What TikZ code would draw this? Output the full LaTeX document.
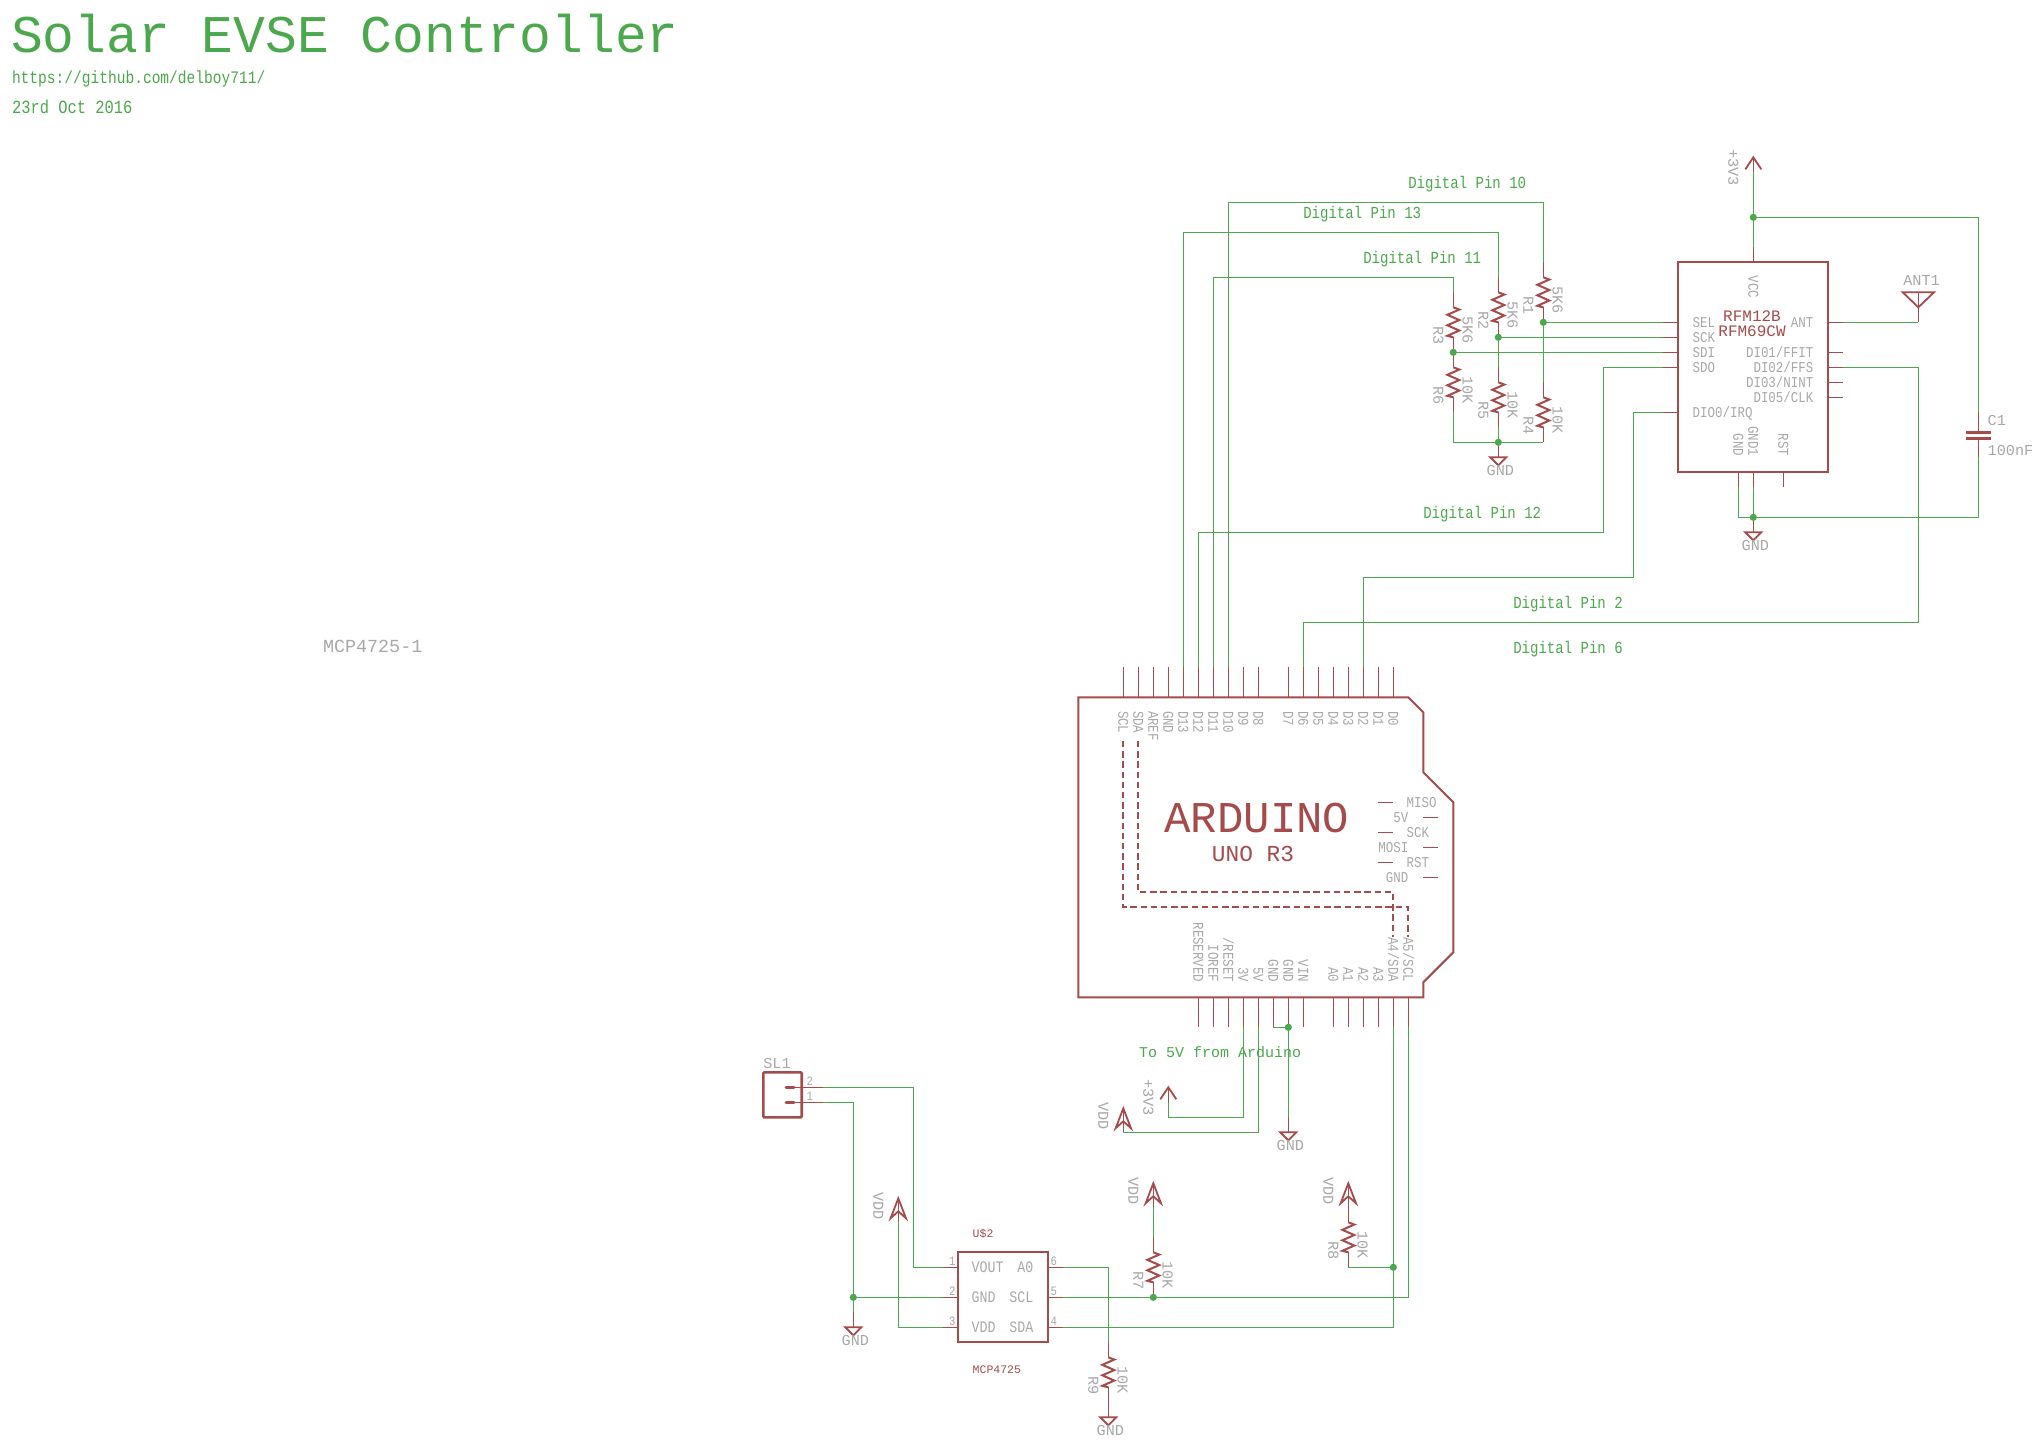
\documentclass[tikz,border=0pt]{standalone}
\usepackage{fontspec}
\setmainfont{Liberation Mono}
\newfontfamily\eagN{Liberation Mono}
\newfontfamily\eagS[FakeStretch=0.83]{Liberation Mono}
\definecolor{wgreen}{HTML}{4CA84C}
\definecolor{sred}{HTML}{A54B4B}
\definecolor{lgray}{HTML}{A8A8A8}
\tikzset{
  wire/.style={draw=wgreen,line width=0.6pt},
  pin/.style={draw=sred,line width=0.55pt},
  body/.style={draw=sred,line width=1pt,line join=miter},
  sym/.style={draw=sred,line width=0.9pt,line join=miter},
  dot/.style={circle,fill=wgreen,inner sep=0pt,minimum size=3.6pt},
  txt/.style={inner sep=0pt,outer sep=0pt},
  lblS/.style={txt,text=lgray,font=\eagS\fontsize{7.5pt}{9pt}\selectfont},
  lblM/.style={txt,text=lgray,font=\eagS\fontsize{8pt}{9pt}\selectfont},
  lblB/.style={txt,text=lgray,font=\eagN\fontsize{7.6pt}{9pt}\selectfont},
  lblN/.style={txt,text=lgray,font=\eagS\fontsize{6.4pt}{8pt}\selectfont},
  note/.style={txt,text=wgreen,font=\eagS\fontsize{8.45pt}{9pt}\selectfont},
  redt/.style={txt,text=sred,font=\eagN\fontsize{8pt}{9pt}\selectfont},
  redsm/.style={txt,text=sred,font=\eagN\fontsize{5.75pt}{7pt}\selectfont},
  down/.style={rotate=-90,anchor=base west},
  downend/.style={rotate=-90,anchor=base east},
  busline/.style={draw=sred,line width=0.9pt,dash pattern=on 3.2pt off 1.9pt}
}
% name, x, ytop, value, refdes
\newcommand\rstr[5]{%
  \coordinate (#1t) at (#2,#3);
  \coordinate (#1b) at (#2,#3+60);
  \draw[pin] (#1t) -- (#2,#3+15) (#2,#3+45) -- (#1b);
  \draw[sym,line width=1pt] (#2,#3+15) -- (#2+6,#3+17.25) -- (#2-6,#3+22.5) -- (#2+6,#3+27.75)
     -- (#2-6,#3+33) -- (#2+6,#3+38.25) -- (#2-6,#3+43.5) -- (#2,#3+45);
  \node[lblB,down] (#1v) at (#2+9.4,#3+23.7) {#4};
  \node[lblB,down] (#1n) at (#2-20,#3+33.7) {#5};
}
% name, x, apex y
\newcommand\vddsym[3]{%
  \coordinate (#1) at (#2,#3+24);
  \draw[pin] (#2,#3+3) -- (#1);
  \draw[sym] (#2-7.7,#3+20) -- (#2,#3) -- (#2+7.7,#3+20) -- (#2,#3+13) -- cycle;
  \node[lblB,down] (#1l) at (#2-25,#3-6) {VDD};
}
\newcommand\vccsym[3]{%
  \coordinate (#1) at (#2,#3+15);
  \draw[pin] (#2,#3+1) -- (#1);
  \draw[sym] (#2-8,#3+12) -- (#2,#3) -- (#2+8,#3+12);
  \node[lblB,down] (#1l) at (#2-25,#3-8) {+3V3};
}
% name, x, pin-top y
\newcommand\gndsym[3]{%
  \coordinate (#1) at (#2,#3);
  \draw[pin] (#1) -- (#2,#3+15);
  \draw[sym] (#2-8,#3+15) -- (#2+8,#3+15) -- (#2,#3+23) -- cycle;
  \node[lblB,anchor=base west] (#1l) at (#2-11.6,#3+33.6) {GND};
}
\begin{document}
\begin{tikzpicture}[x=0.5pt,y=-0.5pt]
\path[fill=white] (0,0) rectangle (2041,1441);
\useasboundingbox (0,0) rectangle (2041,1441);

% title block
\node[txt,text=wgreen,anchor=base west,font=\eagN\fontsize{26.5pt}{30pt}\selectfont] (title) at (11,52.3) {Solar EVSE Controller};
\node[txt,text=wgreen,anchor=base west,font=\eagS\fontsize{8.77pt}{10pt}\selectfont] (url) at (12,83.3) {https://github.com/delboy711/};
\node[txt,text=wgreen,anchor=base west,font=\eagS\fontsize{9.3pt}{10pt}\selectfont] (date) at (12,113.3) {23rd Oct 2016};
\node[txt,text=lgray,anchor=base west,font=\eagN\fontsize{9.2pt}{10pt}\selectfont] (mcplabel) at (323,652.7) {MCP4725-1};

% Arduino
\draw[body] (1078.3,697.3) -- (1408.3,697.3) -- (1423.3,712.3) -- (1423.3,772.3) -- (1453.3,802.3)
  -- (1453.3,952.3) -- (1423.3,982.3) -- (1423.3,997.3) -- (1078.3,997.3) -- cycle;
\foreach \n/\x/\t in {SCL/1123.3/SCL,SDA/1138.3/SDA,AREF/1153.3/AREF,GND/1168.3/GND,D13/1183.3/D13,D12/1198.3/D12,D11/1213.3/D11,D10/1228.3/D10,D9/1243.3/D9,D8/1258.3/D8,D7/1288.3/D7,D6/1303.3/D6,D5/1318.3/D5,D4/1333.3/D4,D3/1348.3/D3,D2/1363.3/D2,D1/1378.3/D1,D0/1393.3/D0}{
  \coordinate (t\n) at (\x,667.3);
  \draw[pin] (t\n) -- (\x,697.3);
  \node[lblS,down] (tl\n) at (\x-5,711) {\t};
}
\foreach \n/\x/\t in {RES/1198.3/RESERVED,IOREF/1213.3/IOREF,RESET/1228.3/{/RESET},V3/1243.3/3V,V5/1258.3/5V,GA/1273.3/GND,GB/1288.3/GND,VIN/1303.3/VIN,A0/1333.3/A0,A1/1348.3/A1,A2/1363.3/A2,A3/1378.3/A3,A4/1393.3/{A4/SDA},A5/1408.3/{A5/SCL}}{
  \coordinate (b\n) at (\x,1027.3);
  \draw[pin] (\x,997.3) -- (b\n);
  \node[lblS,downend] (bl\n) at (\x-5,982.3) {\t};
}
\foreach \n/\xa/\xb/\y in {MISO/1378.3/1393.3/802.3,CK/1378.3/1393.3/832.3,RS/1378.3/1393.3/862.3,FV/1423.3/1438.3/817.3,MO/1423.3/1438.3/847.3,GG/1423.3/1438.3/877.3}{
  \draw[pin] (\xa,\y) -- (\xb,\y);
}
\node[lblS,anchor=base west] (lMISO) at (1406.7,807.3) {MISO};
\node[lblS,anchor=base east] (l5V) at (1408.3,822.3) {5V};
\node[lblS,anchor=base west] (lSCK) at (1406.7,837.3) {SCK};
\node[lblS,anchor=base east] (lMOSI) at (1408.3,852.3) {MOSI};
\node[lblS,anchor=base west] (lRST) at (1406.7,867.3) {RST};
\node[lblS,anchor=base east] (lGNDa) at (1408.3,882.3) {GND};
\draw[busline] (1123.3,741) -- (1123.3,907.3) -- (1408.3,907.3) -- (1408.3,937.3);
\draw[busline] (1138.3,741) -- (1138.3,892.3) -- (1393.3,892.3) -- (1393.3,937.3);
\node[txt,text=sred,anchor=base,font=\eagN\fontsize{22pt}{24pt}\selectfont] (ard) at (1257,832.3) {ARDUINO};
\node[txt,text=sred,anchor=base,font=\eagN\fontsize{11.4pt}{13pt}\selectfont] (uno) at (1253,861.7) {UNO R3};

% RFM module
\draw[body] (1678.3,262.3) rectangle (1828.3,472.3);
\foreach \n/\y in {SEL/322.3,SCK/337.3,SDI/352.3,SDO/367.3,IRQ/412.3}{
  \coordinate (p\n) at (1663.3,\y);
  \draw[pin] (p\n) -- (1678.3,\y);
}
\foreach \n/\y in {ANT/322.3,DIOa/352.3,DIOb/367.3,DIOc/382.3,DIOd/397.3}{
  \coordinate (p\n) at (1843.3,\y);
  \draw[pin] (1828.3,\y) -- (p\n);
}
\coordinate (pVCC) at (1753.3,247.3);
\draw[pin] (pVCC) -- (1753.3,262.3);
\coordinate (pGa) at (1738.3,487.3);
\coordinate (pGb) at (1753.3,487.3);
\coordinate (pRST) at (1783.3,487.3);
\draw[pin] (1738.3,472.3) -- (pGa) (1753.3,472.3) -- (pGb) (1783.3,472.3) -- (pRST);
\node[lblS,anchor=base west] (rSEL) at (1692.7,327.3) {SEL};
\node[lblS,anchor=base west] (rSCK) at (1692.7,342.3) {SCK};
\node[lblS,anchor=base west] (rSDI) at (1692.7,357.3) {SDI};
\node[lblS,anchor=base west] (rSDO) at (1692.7,372.3) {SDO};
\node[lblS,anchor=base west] (rIRQ) at (1692.7,417.3) {DIO0/IRQ};
\node[lblS,anchor=base east] (rANT) at (1813.3,327.3) {ANT};
\node[lblS,anchor=base east] (rD1) at (1813.3,357.3) {DI01/FFIT};
\node[lblS,anchor=base east] (rD2) at (1813.3,372.3) {DI02/FFS};
\node[lblS,anchor=base east] (rD3) at (1813.3,387.3) {DI03/NINT};
\node[lblS,anchor=base east] (rD5) at (1813.3,402.3) {DI05/CLK};
\node[lblS,down] (rVCC) at (1748.3,275.7) {VCC};
\node[lblS,downend] (rG1) at (1748.3,456) {GND1};
\node[lblS,downend] (rG) at (1733.3,456) {GND};
\node[lblS,downend] (rRST) at (1778.3,456) {RST};
\node[redt,anchor=base] (rfm12) at (1752,321.7) {RFM12B};
\node[redt,anchor=base] (rfm69) at (1752,336.9) {RFM69CW};

% antenna
\coordinate (antp) at (1918.3,322.3);
\draw[pin] (1918.3,292.3) -- (antp);
\draw[sym] (1902.7,292.3) -- (1934,292.3) -- (1918.3,307.3) -- cycle;
\node[lblB,anchor=base west] (antl) at (1903.3,285) {ANT1};

% capacitor
\coordinate (c1t) at (1978.3,412.3);
\coordinate (c1b) at (1978.3,457.3);
\draw[pin] (c1t) -- (1978.3,432.3) (1978.3,438.3) -- (c1b);
\draw[sred,line width=1.5pt] (1966,432.3) -- (1991,432.3) (1966,438.6) -- (1991,438.6);
\node[lblB,anchor=base west] (c1n) at (1987.7,425) {C1};
\node[lblB,anchor=base west] (c1v) at (1987.7,455) {100nF};

% resistors
\rstr{ra}{1543.3}{262.3}{5K6}{R1}
\rstr{rb}{1498.3}{277.3}{5K6}{R2}
\rstr{rc}{1453.3}{292.3}{5K6}{R3}
\rstr{rd}{1543.3}{382.3}{10K}{R4}
\rstr{re}{1498.3}{367.3}{10K}{R5}
\rstr{rf}{1453.3}{352.3}{10K}{R6}
\rstr{rg}{1153.3}{1237.3}{10K}{R7}
\rstr{rh}{1348.3}{1207.3}{10K}{R8}
\rstr{ri}{1108.3}{1342.3}{10K}{R9}

% supplies
\vccsym{vcca}{1753.3}{157.3}
\vccsym{vccb}{1168.3}{1087.3}
\vddsym{vdda}{1123.3}{1108.3}
\vddsym{vddb}{898.3}{1198.3}
\vddsym{vddc}{1153.3}{1183.3}
\vddsym{vddd}{1348.3}{1183.3}
\gndsym{gnda}{1498.3}{442.3}
\gndsym{gndb}{1753.3}{517.3}
\gndsym{gndc}{1288.3}{1117.3}
\gndsym{gndd}{853.3}{1312.3}
\gndsym{gnde}{1108.3}{1402.3}

% SL1 connector
\draw[sred,line width=1.3pt,rounded corners=0.5pt] (763.3,1072.3) rectangle (801.7,1117.3);
\draw[sred,line width=1.5pt,line cap=round] (786,1087.3) -- (794,1087.3) (786,1102.3) -- (794,1102.3);
\coordinate (sl2) at (823.3,1087.3);
\coordinate (sl1) at (823.3,1102.3);
\draw[pin] (795,1087.3) -- (sl2) (795,1102.3) -- (sl1);
\node[lblB,anchor=base west] (sln) at (763.3,1068.3) {SL1};
\node[lblN,anchor=base west] (sl2n) at (806.7,1085) {2};
\node[lblN,anchor=base west] (sl1n) at (806.7,1100) {1};

% MCP4725
\draw[body] (958.3,1252.3) rectangle (1048.3,1342.3);
\foreach \n/\y/\t in {1/1267.3/1,2/1297.3/2,3/1327.3/3}{
  \coordinate (ml\n) at (943.3,\y);
  \draw[pin] (ml\n) -- (958.3,\y);
  \node[lblN,anchor=base east] (mln\n) at (955.5,\y-2.3) {\t};
}
\foreach \n/\y/\t in {6/1267.3/6,5/1297.3/5,4/1327.3/4}{
  \coordinate (mr\n) at (1063.3,\y);
  \draw[pin] (1048.3,\y) -- (mr\n);
  \node[lblN,anchor=base west] (mrn\n) at (1050.5,\y-2.3) {\t};
}
\node[lblM,anchor=base west] (mVOUT) at (971.7,1272.3) {VOUT};
\node[lblM,anchor=base west] (mGND) at (971.7,1302.3) {GND};
\node[lblM,anchor=base west] (mVDD) at (971.7,1332.3) {VDD};
\node[lblM,anchor=base east] (mA0) at (1033.3,1272.3) {A0};
\node[lblM,anchor=base east] (mSCL) at (1033.3,1302.3) {SCL};
\node[lblM,anchor=base east] (mSDA) at (1033.3,1332.3) {SDA};
\node[redsm,anchor=base west] (mU) at (972.7,1237.7) {U\$2};
\node[redsm,anchor=base west] (mName) at (972.7,1373.3) {MCP4725};

% junctions
\coordinate (jvcc) at (1753.3,217.3);
\coordinate (jgnd) at (1753.3,517.3);
\coordinate (jres) at (1498.3,442.3);
\coordinate (jv8) at (1393.3,1267.3);
\coordinate (jag) at (1288.3,1027.3);
\coordinate (jmg) at (853.3,1297.3);

% wires
\coordinate (k10) at (1228.3,202.3);
\coordinate (k13) at (1183.3,232.3);
\coordinate (k11) at (1213.3,277.3);
\coordinate (k12) at (1198.3,532.3);
\coordinate (k12b) at (1603.3,367.3);
\coordinate (k2a) at (1633.3,412.3);
\coordinate (k2b) at (1363.3,577.3);
\coordinate (k6a) at (1918.3,367.3);
\coordinate (k6b) at (1303.3,622.3);
\coordinate (kv3) at (1168.3,1117.3);
\coordinate (ksl) at (913.3,1087.3);
\draw[wire] (rat) |- (k10) -- (tD10);
\draw[wire] (rbt) |- (k13) -- (tD13);
\draw[wire] (rct) |- (k11) -- (tD11);
\draw[wire] (pSDO) -- (k12b) |- (k12) -- (tD12);
\draw[wire] (pIRQ) -- (k2a) |- (k2b) -- (tD2);
\draw[wire] (pDIOb) -- (k6a) |- (k6b) -- (tD6);
\draw[wire] (rab) -- (pSEL);
\draw[wire] (rbb) -- (pSCK);
\draw[wire] (rcb) -- (pSDI);
\draw[wire] (rab) -- (rdt);
\draw[wire] (rbb) -- (ret);
\draw[wire] (rfb) |- (jres) -| (rdb);
\draw[wire] (reb) -- (jres);
\draw[wire] (vcca) -- (pVCC);
\draw[wire] (jvcc) -| (c1t);
\draw[wire] (c1b) |- (jgnd);
\draw[wire] (pGa) |- (jgnd);
\draw[wire] (pGb) -- (gndb);
\draw[wire] (pANT) -- (antp);
\draw[wire] (bV3) |- (kv3) -- (vccb);
\draw[wire] (bV5) |- (vdda);
\draw[wire] (bGA) -- (bGB);
\draw[wire] (bGB) -- (gndc);
\draw[wire] (sl2) -- (ksl) |- (ml1);
\draw[wire] (sl1) -| (jmg);
\draw[wire] (jmg) -- (ml2);
\draw[wire] (jmg) -- (gndd);
\draw[wire] (vddb) |- (ml3);
\draw[wire] (mr6) -| (rit);
\draw[wire] (mr5) -- (rgb);
\draw[wire] (rgb) -| (bA5);
\draw[wire] (mr4) -| (jv8);
\draw[wire] (jv8) -- (bA4);
\draw[wire] (rhb) -- (jv8);
\draw[wire] (vddc) -- (rgt);

\foreach \c in {jvcc,jgnd,jres,jv8,jag,jmg,rab,rbb,rcb,rgb}{
  \node[dot] (d\c) at (\c) {};
}

% notes
\node[note,anchor=base west] (n10) at (1408.3,188.3) {Digital Pin 10};
\node[note,anchor=base west] (n13) at (1303.3,218.3) {Digital Pin 13};
\node[note,anchor=base west] (n11) at (1363.3,263.3) {Digital Pin 11};
\node[note,anchor=base west] (n12) at (1423.3,518.3) {Digital Pin 12};
\node[note,anchor=base west] (n2) at (1513.3,608.3) {Digital Pin 2};
\node[note,anchor=base west] (n6) at (1513.3,653.3) {Digital Pin 6};
\node[txt,text=wgreen,anchor=base west,font=\eagN\fontsize{7.5pt}{9pt}\selectfont] (nTo) at (1139,1057.3) {To 5V from Arduino};
\end{tikzpicture}
\end{document}
